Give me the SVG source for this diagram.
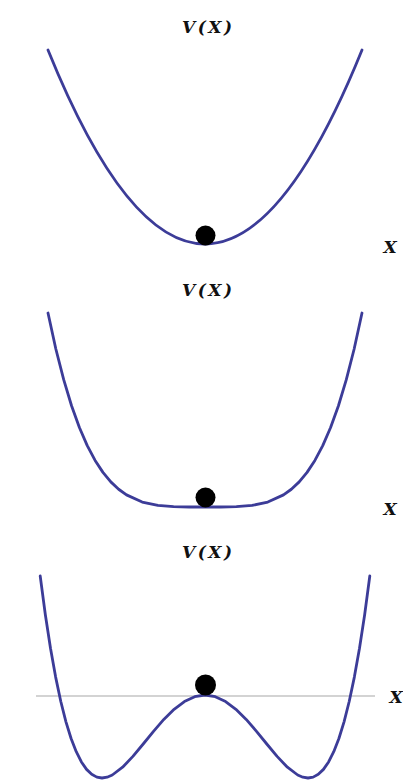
<svg xmlns="http://www.w3.org/2000/svg" width="403" height="781" viewBox="0 0 403 781">
<style>
.curve{fill:none;stroke:#3c3c98;stroke-width:2.8;stroke-linejoin:round;stroke-linecap:round}
.ball{fill:#000}
.lbl{font-family:"DejaVu Serif","Liberation Serif",serif;font-weight:bold;font-style:italic;fill:#111}
.vx{font-size:17px;text-anchor:middle}
.ax{font-size:17px;text-anchor:middle}
.axis{stroke:#c4c4c4;stroke-width:1.6}
</style>
<rect width="403" height="781" fill="#fff"/>
<g id="panel1">
<text class="lbl vx" x="207" y="33" textLength="50" lengthAdjust="spacing">V(X)</text>
<path class="curve" d="M48,50 Q205,438 362,50"/>
<circle class="ball" cx="205.5" cy="235.5" r="10"/>
<text class="lbl ax" x="390" y="253">X</text>
</g>
<g id="panel2">
<text class="lbl vx" x="207" y="296" textLength="50" lengthAdjust="spacing">V(X)</text>
<path class="curve" d="M48,313 L55.85,349 L63.7,379.72 L71.55,405.73 L79.4,427.54 L87.25,445.62 L95.1,460.42 L102.95,472.37 L110.8,481.86 L118.65,489.25 L126.5,494.88 L142.2,502.03 L157.9,505.43 L173.6,506.69 L189.3,506.98 L205,507 L220.7,506.98 L236.4,506.69 L252.1,505.43 L267.8,502.03 L283.5,494.88 L291.35,489.25 L299.2,481.86 L307.05,472.37 L314.9,460.42 L322.75,445.62 L330.6,427.54 L338.45,405.73 L346.3,379.72 L354.15,349 L362,313"/>
<circle class="ball" cx="205.5" cy="497.5" r="10"/>
<text class="lbl ax" x="390" y="515">X</text>
</g>
<g id="panel3">
<text class="lbl vx" x="207" y="558" textLength="50" lengthAdjust="spacing">V(X)</text>
<line class="axis" x1="36" y1="696" x2="375" y2="696"/>
<path class="curve" d="M40.2,576.01 L45.35,614.74 L50.5,648.31 L55.65,677.11 L60.8,701.51 L65.95,721.85 L71.1,738.48 L76.25,751.74 L81.4,761.93 L86.55,769.37 L91.7,774.34 L96.85,777.13 L102,778 L107.15,777.21 L112.3,775 L122.6,767.24 L132.9,756.41 L143.2,744 L153.5,731.31 L163.8,719.44 L174.1,709.27 L184.4,701.51 L194.7,696.65 L205,695 L215.3,696.65 L225.6,701.51 L235.9,709.27 L246.2,719.44 L256.5,731.31 L266.8,744 L277.1,756.41 L287.4,767.24 L297.7,775 L302.85,777.21 L308,778 L313.15,777.13 L318.3,774.34 L323.45,769.37 L328.6,761.93 L333.75,751.74 L338.9,738.48 L344.05,721.85 L349.2,701.51 L354.35,677.11 L359.5,648.31 L364.65,614.74 L369.8,576.01"/>
<circle class="ball" cx="205.5" cy="685" r="10.5"/>
<text class="lbl ax" x="396" y="703">X</text>
</g>
</svg>
